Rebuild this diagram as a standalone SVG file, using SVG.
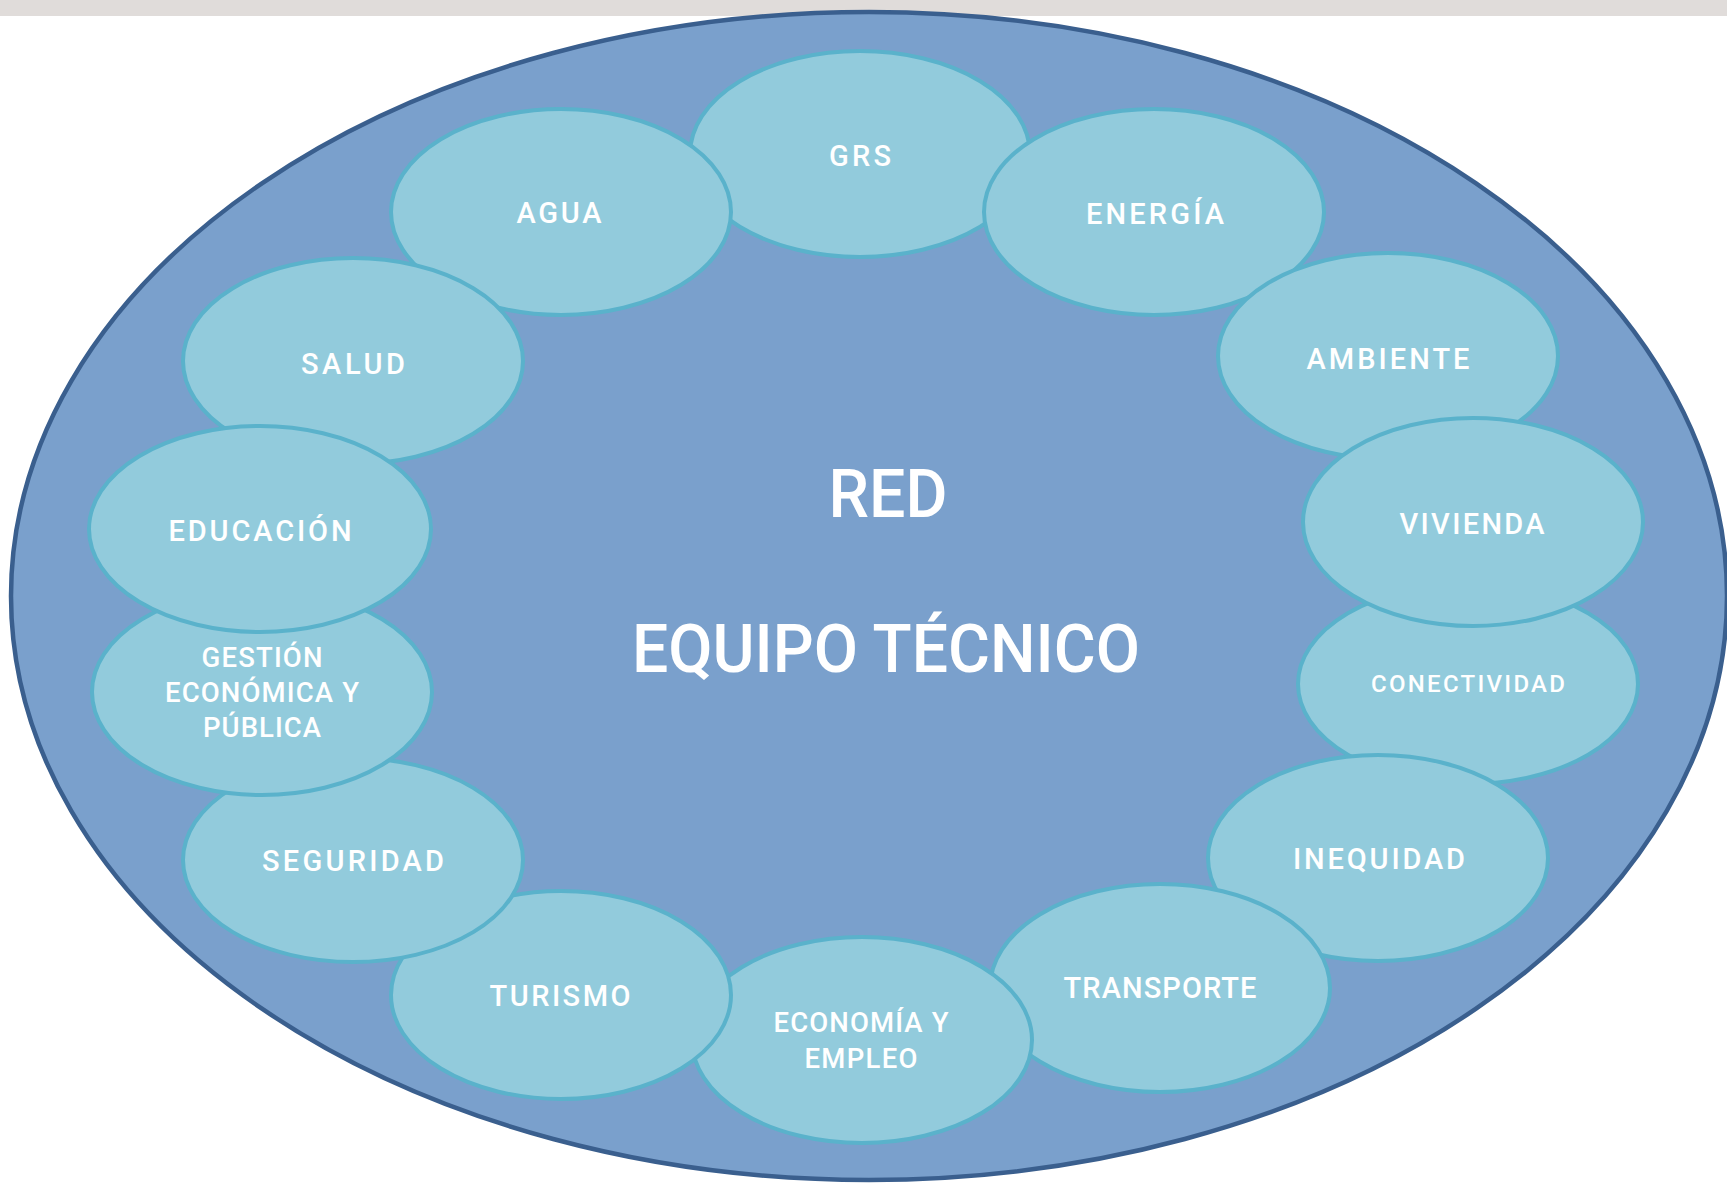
<svg xmlns="http://www.w3.org/2000/svg" width="1727" height="1183" viewBox="0 0 1727 1183">
<style>
.node ellipse{fill:#92cbdc;stroke:#5ab2cb;stroke-width:4}
.lbl{font-family:Roboto,"Liberation Sans",sans-serif;font-size:29px;fill:#ffffff;text-anchor:middle;font-weight:500}
.ml{font-size:27.5px}
.sm{font-size:24px}
.big{font-family:Roboto,"Liberation Sans",sans-serif;font-size:66px;fill:#ffffff;text-anchor:middle;font-weight:500}
</style>
<rect x="0" y="0" width="1727" height="1183" fill="#ffffff"/>
<rect x="0" y="0" width="1727" height="16" fill="#e0dcda"/>
<g id="red">
<ellipse cx="869" cy="596" rx="858" ry="584" fill="#7aa0cc" stroke="#3a5f8e" stroke-width="4.5"/>
<text class="big" x="888" y="517" textLength="119" lengthAdjust="spacingAndGlyphs">RED</text>
<text class="big" x="886" y="672" textLength="508" lengthAdjust="spacingAndGlyphs">EQUIPO TÉCNICO</text>
</g>
<g id="grs" class="node"><ellipse cx="860" cy="154" rx="170" ry="103"/><text class="lbl" x="860" y="166" textLength="62">GRS</text></g>
<g id="energia" class="node"><ellipse cx="1154" cy="212" rx="170" ry="103"/><text class="lbl" x="1155" y="224" textLength="138">ENERGÍA</text></g>
<g id="ambiente" class="node"><ellipse cx="1388" cy="356" rx="170" ry="103"/><text class="lbl" x="1388" y="369" textLength="163">AMBIENTE</text></g>
<g id="agua" class="node"><ellipse cx="561" cy="212" rx="170" ry="103"/><text class="lbl" x="559" y="223" textLength="85">AGUA</text></g>
<g id="salud" class="node"><ellipse cx="353" cy="361" rx="170" ry="103"/><text class="lbl" x="353" y="374" textLength="104">SALUD</text></g>
<g id="conectividad" class="node"><ellipse cx="1468" cy="684" rx="170" ry="100"/><text class="lbl sm" x="1468" y="692" textLength="194">CONECTIVIDAD</text></g>
<g id="inequidad" class="node"><ellipse cx="1378" cy="858" rx="170" ry="103"/><text class="lbl" x="1379" y="869" textLength="172">INEQUIDAD</text></g>
<g id="transporte" class="node"><ellipse cx="1160" cy="988" rx="170" ry="104"/><text class="lbl" x="1160" y="998" textLength="193">TRANSPORTE</text></g>
<g id="economia" class="node"><ellipse cx="862" cy="1040" rx="170" ry="103"/><text class="lbl ml" x="861" y="1032" textLength="175">ECONOMÍA Y</text><text class="lbl ml" x="861" y="1068" textLength="113">EMPLEO</text></g>
<g id="turismo" class="node"><ellipse cx="561" cy="995" rx="170" ry="104"/><text class="lbl" x="560" y="1006" textLength="141">TURISMO</text></g>
<g id="seguridad" class="node"><ellipse cx="353" cy="860" rx="170" ry="102"/><text class="lbl" x="353" y="871" textLength="182">SEGURIDAD</text></g>
<g id="gestion" class="node"><ellipse cx="262" cy="692" rx="170" ry="103"/><text class="lbl ml" x="262" y="667" textLength="121">GESTIÓN</text><text class="lbl ml" x="262" y="702" textLength="194">ECONÓMICA Y</text><text class="lbl ml" x="262" y="737" textLength="118">PÚBLICA</text></g>
<g id="educacion" class="node"><ellipse cx="260" cy="529" rx="171" ry="103"/><text class="lbl" x="260" y="541" textLength="183">EDUCACIÓN</text></g>
<g id="vivienda" class="node"><ellipse cx="1473" cy="522" rx="170" ry="104"/><text class="lbl" x="1472" y="534" textLength="145">VIVIENDA</text></g>
</svg>
